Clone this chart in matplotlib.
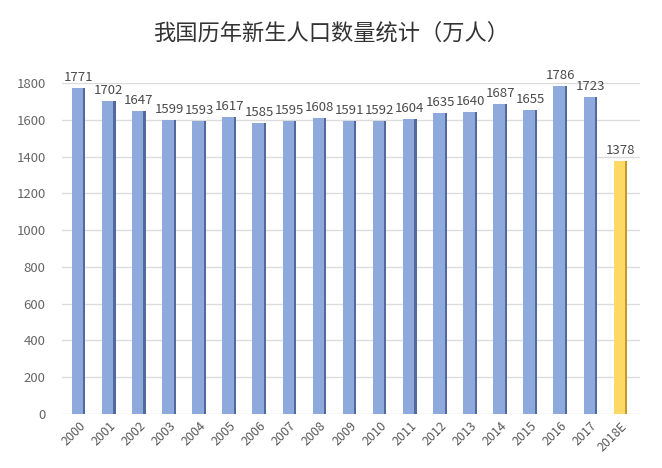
import matplotlib.pyplot as plt
import numpy as np

plt.rcParams['font.family'] = ['Noto Sans CJK SC', 'DejaVu Sans']

years = ['2000', '2001', '2002', '2003', '2004', '2005', '2006', '2007', '2008', '2009',
         '2010', '2011', '2012', '2013', '2014', '2015', '2016', '2017', '2018E']
births = [1771, 1702, 1647, 1599, 1593, 1617, 1585, 1595, 1608, 1591,
          1592, 1604, 1635, 1640, 1687, 1655, 1786, 1723, 1378]
yticks = [0, 200, 400, 600, 800, 1000, 1200, 1400, 1600, 1800]

face = ['#8eaadc'] * (len(years) - 1) + ['#ffd966']
side = ['#51699c'] * (len(years) - 1) + ['#bf9a2a']

fig = plt.figure(figsize=(6.62, 4.68), dpi=100)
ax = fig.add_axes([0.094, 0.1154, 0.873, 0.7072])

x = np.arange(len(years))
ax.bar(x - 0.04, births, width=0.38, color=face, zorder=3)
# darker right face for the 3D look
ax.bar(x + 0.185, births, width=0.07, color=side, zorder=3)

for xi, v in zip(x, births):
    ax.text(xi, v + 22, str(v), ha='center', va='bottom', fontsize=9.5, color='#4a4a4a')

ax.set_xlim(-0.55, 18.65)
ax.set_ylim(0, 1800)
ax.set_yticks(yticks)
ax.set_xticks(x)
ax.set_xticklabels(years, rotation=45, ha='right', rotation_mode='anchor',
                   fontsize=9, color='#595959')
ax.tick_params(axis='y', labelsize=9.5, labelcolor='#666666', length=0, pad=12)
ax.tick_params(axis='x', length=0, pad=4)
ax.grid(axis='y', color='#dcdcdc', linewidth=1, zorder=0)
for s in ax.spines.values():
    s.set_visible(False)

fig.text(0.5, 0.93, '我国历年新生人口数量统计（万人）', ha='center', va='center',
         fontsize=16, color='#333333')

fig.savefig('out.png', dpi=100)
